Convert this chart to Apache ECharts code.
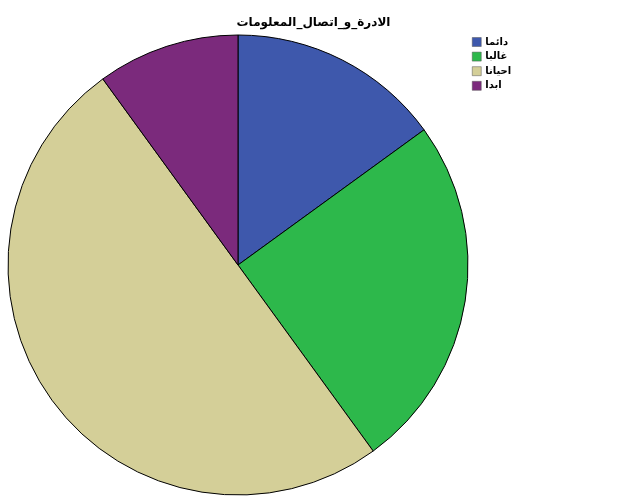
<!DOCTYPE html>
<html><head><meta charset="utf-8">
<script src="https://cdn.jsdelivr.net/npm/echarts@6/dist/echarts.min.js"></script>
<style>html,body{margin:0;padding:0;background:#fff}#c{width:627px;height:502px}</style>
</head><body><div id="c"></div>
<script>
const titleText = "الادرة_و_اتصال_المعلومات";
const categories = ["دائما", "غالبا", "احيانا", "ابدا"];
const values = [15, 25, 50, 10];
const colors = ["#3e58ac", "#2db84b", "#d4cf98", "#7b2a7c"];

const chart = echarts.init(document.getElementById('c'));
chart.setOption({
  backgroundColor: '#fff',
  animation: false,
  title: {
    text: titleText, left: 'center', top: 12,
    textStyle: { fontFamily: 'DejaVu Sans', fontSize: 12, fontWeight: 'bold', color: '#000' }
  },
  legend: {
    orient: 'vertical', left: 472, top: 37, padding: 0,
    itemWidth: 9, itemHeight: 9, itemGap: 4.6,
    icon: 'rect',
    data: categories,
    textStyle: { fontFamily: 'DejaVu Sans', fontSize: 10, fontWeight: 'bold', color: '#000', padding: [0,0,0,-1] },
    itemStyle: { borderColor: '#555', borderWidth: 0.5 }
  },
  series: [{
    type: 'pie',
    center: [238, 265],
    radius: [0, 230],
    startAngle: 90,
    clockwise: true,
    label: { show: false },
    labelLine: { show: false },
    emphasis: { disabled: true },
    itemStyle: { borderColor: '#000', borderWidth: 1 },
    data: categories.map((c, i) => ({ name: c, value: values[i], itemStyle: { color: colors[i] } }))
  }]
});
</script></body></html>
